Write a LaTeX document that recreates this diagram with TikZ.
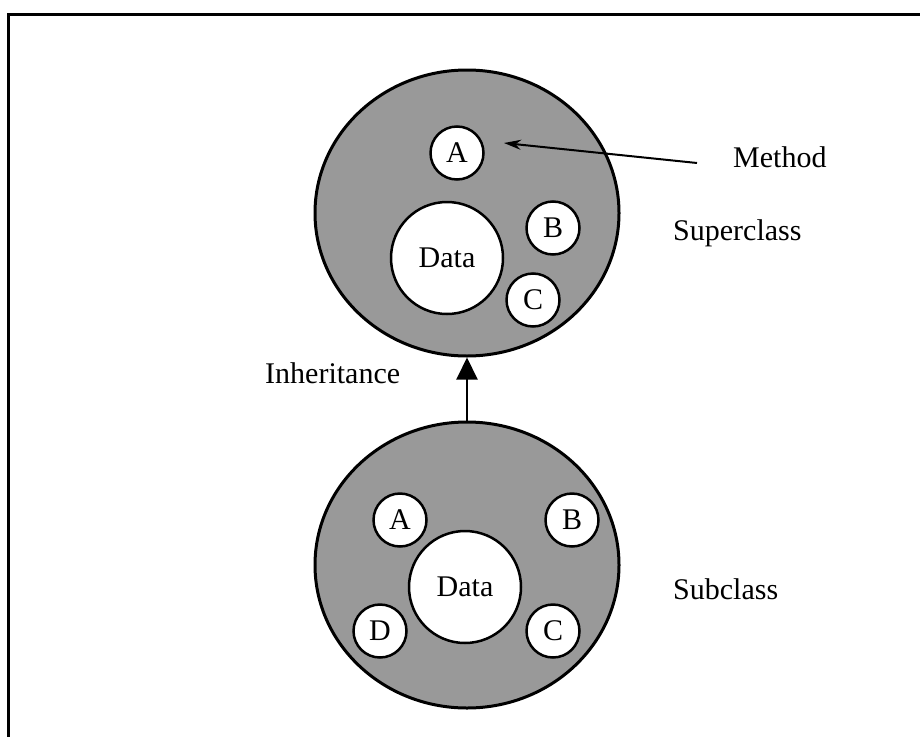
\documentclass[tikz,border=0pt]{standalone}
\usepackage{fontspec}
\setmainfont{Liberation Serif}
\usetikzlibrary{shapes.geometric,arrows.meta}

\tikzset{
  lbl/.style={font=\fontsize{30}{36}\selectfont, inner sep=0pt, anchor=base west},
  classbody/.style={ellipse, draw, line width=3pt, fill=black!40,
    minimum width=304pt, minimum height=286pt, inner sep=0pt},
  member/.style={circle, draw, line width=2.5pt, fill=white, inner sep=0pt,
    minimum size=53pt, font=\fontsize{30}{36}\selectfont},
  datacell/.style={member, minimum size=112pt},
  conn/.style={line width=2pt}
}

\begin{document}
\begin{tikzpicture}[x=1pt, y=-1pt]
  \useasboundingbox (0,0) rectangle (920,736);

  % frame along the top and left edges
  \draw[line width=3pt] (8,740) -- (8,14) -- (924,14);

  % superclass
  \node[classbody] (super) at (467,213) {};
  \node[member]   (supA) at (457,153) {A};
  \node[datacell] (supData) at (447,258) {Data};
  \node[member]   (supB) at (553,228) {B};
  \node[member]   (supC) at (533,300) {C};

  % subclass
  \node[classbody] (sub) at (467,565) {};
  \node[member]   (subA) at (400,520) {A};
  \node[member]   (subB) at (572,520) {B};
  \node[datacell] (subData) at (465,587) {Data};
  \node[member]   (subD) at (380,631) {D};
  \node[member]   (subC) at (553,631) {C};

  % labels
  \node[lbl] (method) at (733,167) {Method};
  \node[lbl] (superlbl) at (673,240) {Superclass};
  \node[lbl] (sublbl) at (673,599) {Subclass};
  \node[lbl] (inh) at (265,383) {Inheritance};

  % method pointer
  \coordinate (mstart) at (697,163);
  \coordinate (mtip) at (504,143);
  \draw[conn, -{Stealth[length=17pt, width=10pt]}] (mstart) -- (mtip);

  % inheritance arrow
  \draw[conn, -{Triangle[length=22pt, width=21pt]}] (sub.north) -- (super.south);
\end{tikzpicture}
\end{document}
